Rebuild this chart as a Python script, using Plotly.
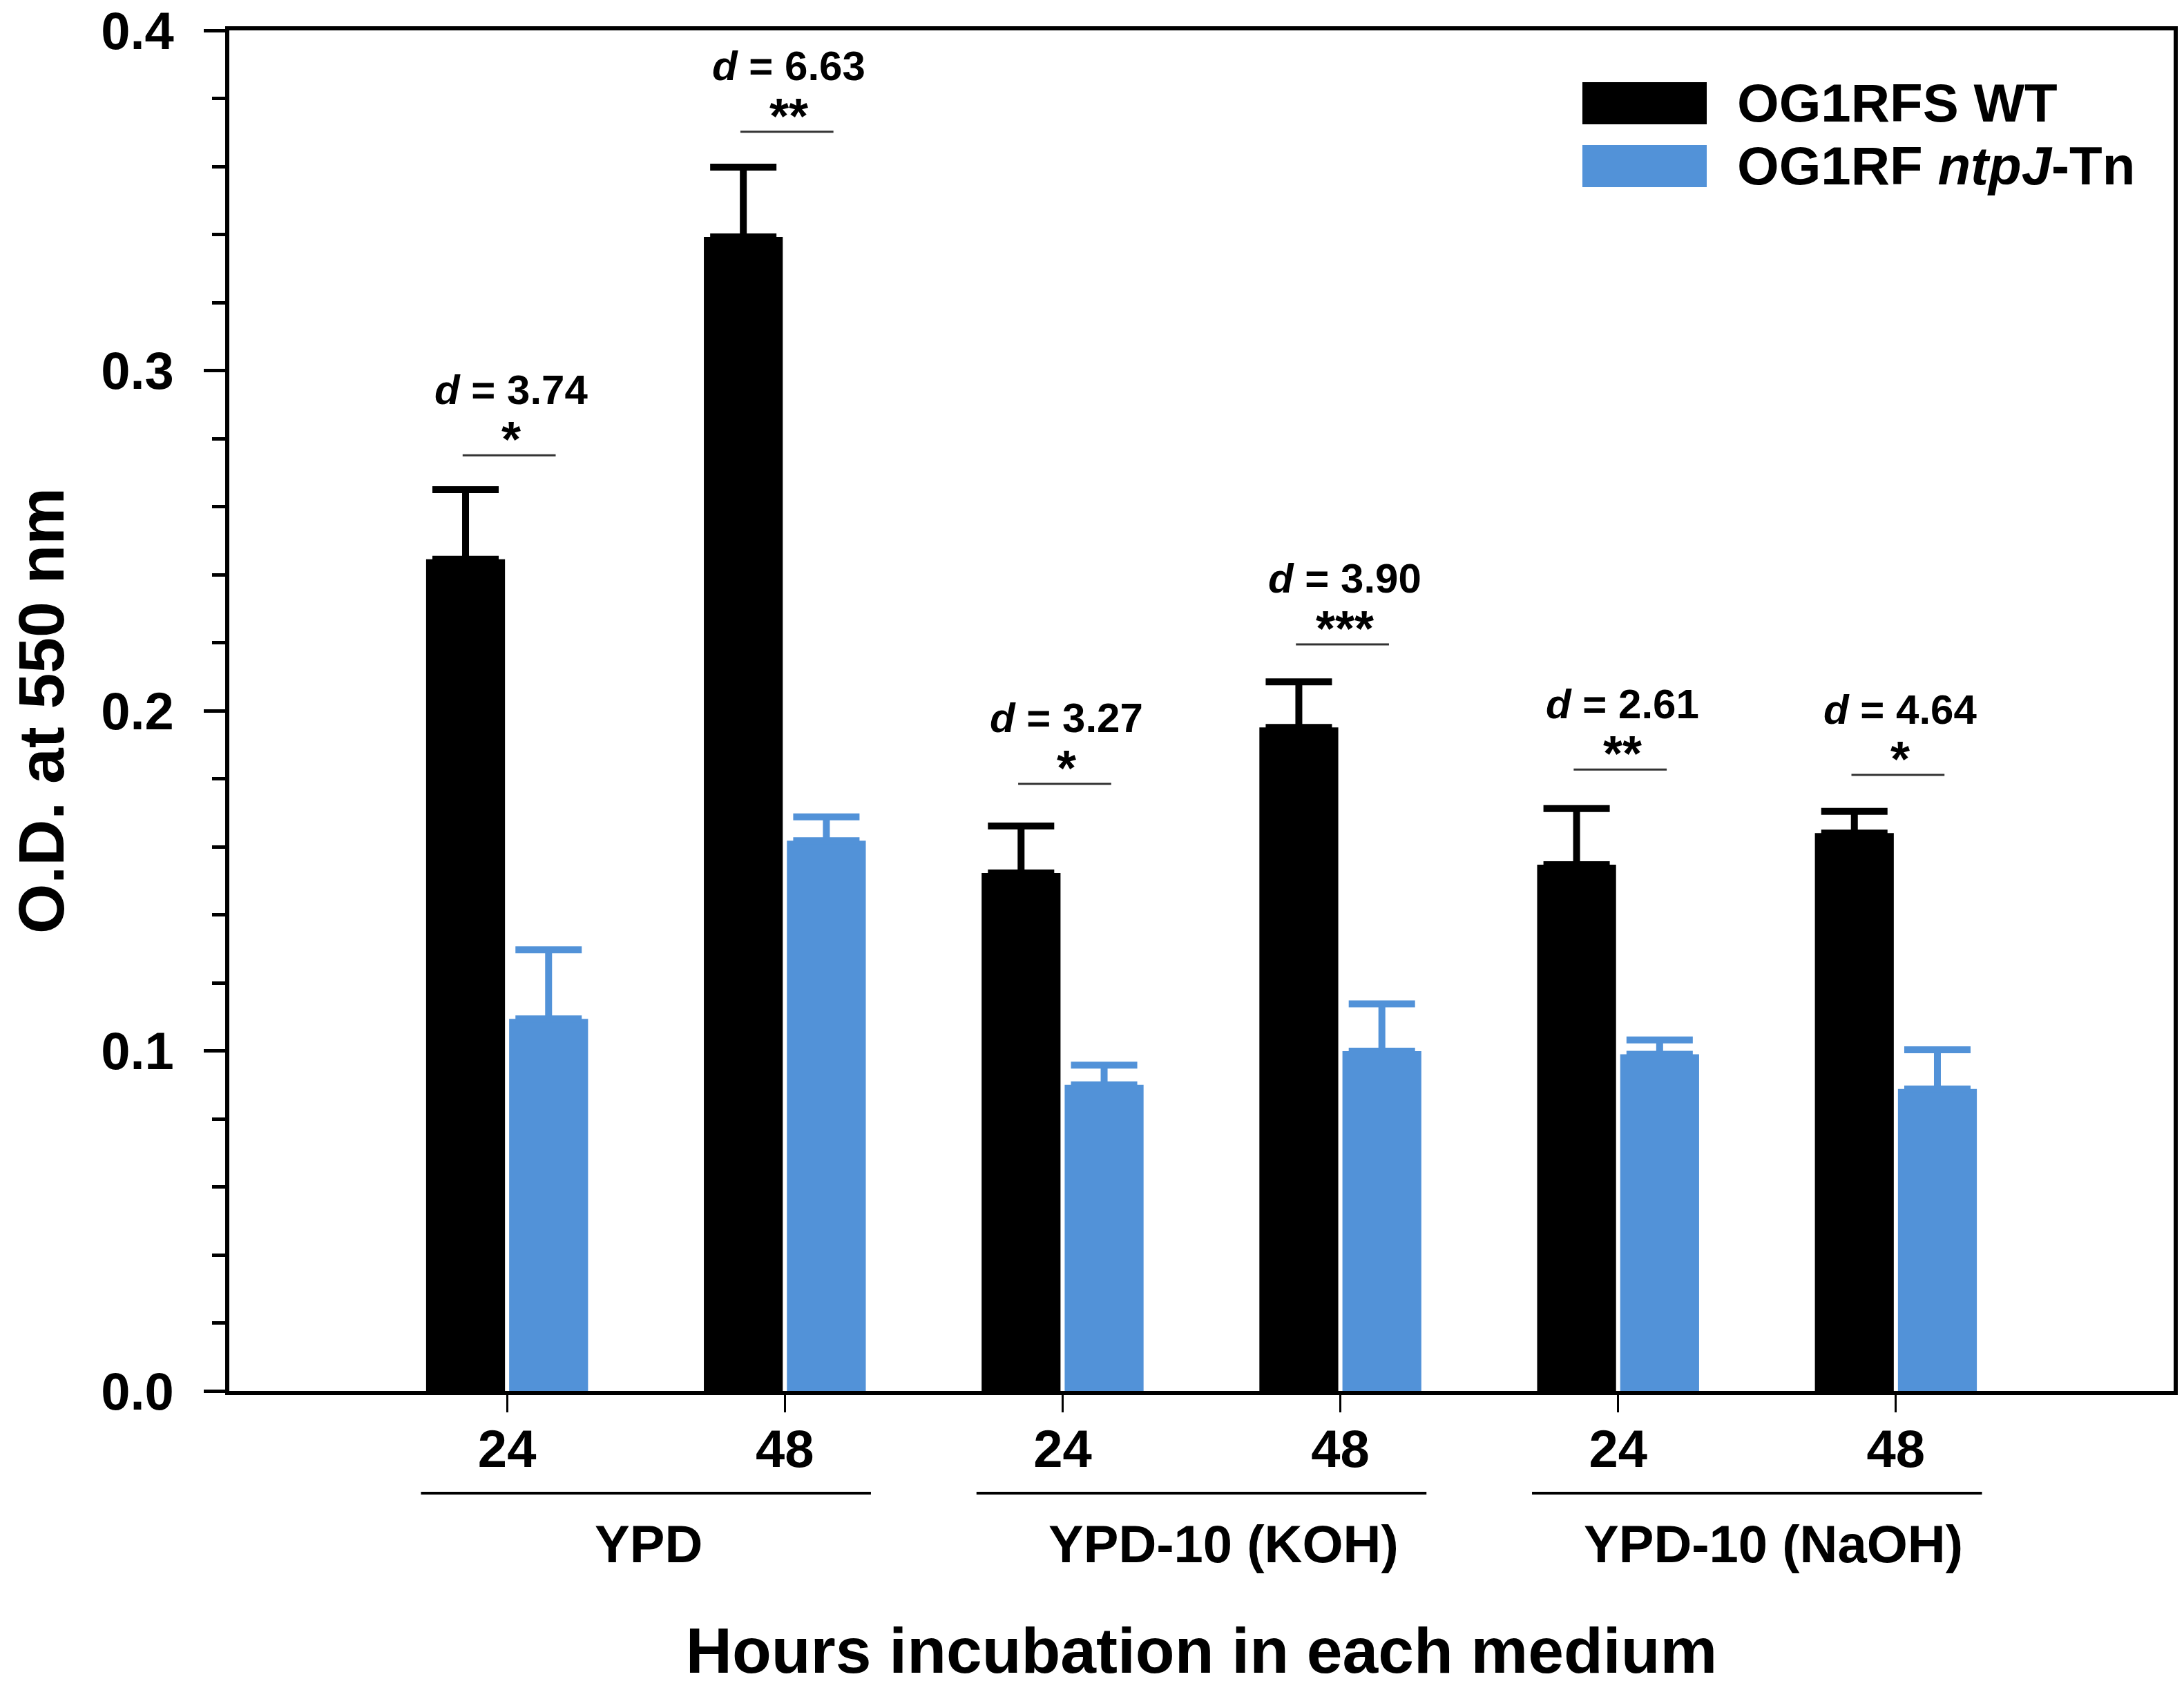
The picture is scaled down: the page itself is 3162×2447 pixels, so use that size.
import plotly.graph_objects as go

# ---- data ----
positions = [1, 2, 3, 4, 5, 6]
hour_labels = ["24", "48", "24", "48", "24", "48"]
media = ["YPD", "YPD-10 (KOH)", "YPD-10 (NaOH)"]
media_centers = [1.51, 3.58, 5.56]
media_line_centers = [1.5, 3.5, 5.5]

wt_name = "OG1RFS WT"
wt_vals = [0.2445, 0.3393, 0.1523, 0.1951, 0.1547, 0.1640]
wt_err = [0.0205, 0.0205, 0.0138, 0.0134, 0.0165, 0.0064]

mut_name = "OG1RF <i>ntpJ</i>-Tn"
mut_vals = [0.1094, 0.1618, 0.0900, 0.0999, 0.0990, 0.0888]
mut_err = [0.0203, 0.0070, 0.0058, 0.0139, 0.0042, 0.0115]

d_values = ["3.74", "6.63", "3.27", "3.90", "2.61", "4.64"]
stars = ["*", "**", "*", "***", "**", "*"]
sig_line_y = [0.2751, 0.3702, 0.1785, 0.2195, 0.1827, 0.1811]

BLACK = "#000000"
BLUE = "#5292d8"
FONT = "Liberation Sans, Arial, sans-serif"

fig = go.Figure()
fig.add_trace(go.Bar(
    x=positions, y=wt_vals, name=wt_name, marker_color=BLACK, marker_line_width=0,
    error_y=dict(type="data", array=wt_err, symmetric=False, arrayminus=[0]*6,
                 color=BLACK, thickness=10, width=48),
    showlegend=False,
))
fig.add_trace(go.Bar(
    x=positions, y=mut_vals, name=mut_name, marker_color=BLUE, marker_line_width=0,
    error_y=dict(type="data", array=mut_err, symmetric=False, arrayminus=[0]*6,
                 color=BLUE, thickness=10, width=48),
    showlegend=False,
))

W, H = 3162, 2447
ml, mr, mt, mb = 324, 23, 36, 441

fig.update_layout(
    width=W, height=H,
    margin=dict(l=ml, r=mr, t=mt, b=mb),
    paper_bgcolor="white", plot_bgcolor="white",
    barmode="group", bargap=0.402, bargroupgap=0.05,
    font=dict(family=FONT, color="black"),
)

fig.update_xaxes(
    range=[0, 7], tickmode="array", tickvals=positions, ticktext=hour_labels,
    ticks="outside", ticklen=25, tickwidth=3, tickcolor="black",
    ticklabelstandoff=-12,
    tickfont=dict(family=FONT, size=76, weight="bold", color="black"),
    showline=True, linewidth=6, linecolor="black", mirror=True,
    showgrid=False, zeroline=False,
    title=dict(text="Hours incubation in each medium",
               font=dict(family=FONT, size=93, weight="bold", color="black"),
               standoff=220),
    automargin=False,
)
fig.update_yaxes(
    range=[0, 0.4], tickmode="array", tickvals=[0, 0.1, 0.2, 0.3, 0.4],
    ticktext=["0.0", "0.1", "0.2", "0.3", "0.4"],
    ticks="outside", ticklen=31, tickwidth=5, tickcolor="black",
    ticklabelstandoff=28, ticklabeloverflow="allow",
    tickfont=dict(family=FONT, size=76, weight="bold", color="black"),
    minor=dict(tickmode="linear", tick0=0, dtick=0.02, ticks="outside", ticklen=19,
               tickwidth=5, tickcolor="black", showgrid=False),
    showline=True, linewidth=6, linecolor="black", mirror=True,
    showgrid=False, zeroline=False,
    title=dict(text="O.D. at 550 nm",
               font=dict(family=FONT, size=93, weight="bold", color="black"),
               standoff=82),
    automargin=False,
)

plot_h = H - mt - mb

def py(Y):
    return (H - mb - Y) / plot_h

# media group lines and labels
for c, lab, lc in zip(media_centers, media, media_line_centers):
    fig.add_shape(type="line", xref="x", yref="paper", x0=lc - 0.81, x1=lc + 0.81,
                  y0=py(2154), y1=py(2154), line=dict(color="black", width=4))
    fig.add_annotation(x=c, y=py(2227), xref="x", yref="paper", text=lab, showarrow=False,
                       yanchor="middle", font=dict(family=FONT, size=76, weight="bold", color="black"))

# significance annotations
for p, dv, st, ly in zip(positions, d_values, stars, sig_line_y):
    fig.add_shape(type="line", xref="x", yref="y", x0=p - 0.16, x1=p + 0.175, y0=ly, y1=ly,
                  line=dict(color="#333333", width=3))
    fig.add_annotation(x=p + 0.015, y=ly, xref="x", yref="y", showarrow=False,
                       text="<i>d</i> = " + dv, yanchor="middle", yshift=95,
                       font=dict(family=FONT, size=60, weight="bold", color="black"))
    fig.add_annotation(x=p + 0.015, y=ly, xref="x", yref="y", showarrow=False,
                       text=st, yanchor="middle", yshift=23,
                       font=dict(family=FONT, size=72, weight="bold", color="black"))

# legend (manual)
plot_w = W - ml - mr

def px_(X):
    return (X - ml) / plot_w

for (y0, y1, ytext, col, name) in [(111, 172, 141, BLACK, wt_name), (202, 263, 232, BLUE, mut_name)]:
    fig.add_shape(type="rect", xref="paper", yref="paper", x0=px_(2283), x1=px_(2463),
                  y0=py(y1), y1=py(y0), fillcolor=col, line=dict(width=0))
    fig.add_annotation(x=px_(2505), y=py(ytext), xref="paper", yref="paper", text=name,
                       showarrow=False, xanchor="left", yanchor="middle",
                       font=dict(family=FONT, size=78, weight="bold", color="black"))

fig.write_html("out.html")
